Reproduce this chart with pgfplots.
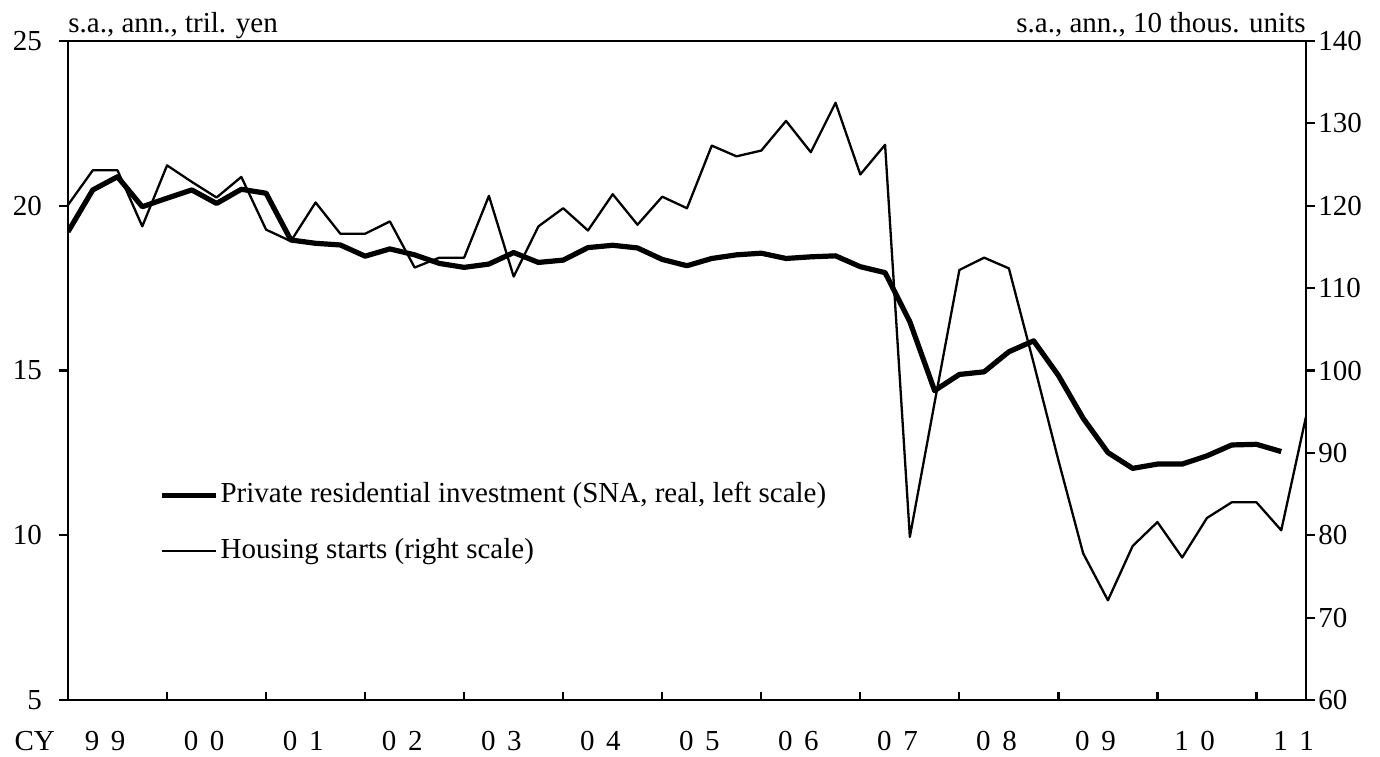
\documentclass[border=0pt]{standalone}
\usepackage{fontspec}
\setmainfont{Liberation Serif}
\usepackage{pgfplots}
\pgfplotsset{compat=1.18}
\pgfplotstableread{
x y
0 19.21
1 20.48
2 20.88
3 19.97
4 20.23
5 20.48
6 20.07
7 20.50
8 20.38
9 18.96
10 18.86
11 18.81
12 18.47
13 18.69
14 18.51
15 18.25
16 18.13
17 18.23
18 18.58
19 18.28
20 18.35
21 18.73
22 18.80
23 18.72
24 18.37
25 18.18
26 18.40
27 18.51
28 18.56
29 18.40
30 18.45
31 18.48
32 18.15
33 17.97
34 16.48
35 14.39
36 14.88
37 14.96
38 15.57
39 15.90
40 14.85
41 13.55
42 12.51
43 12.03
44 12.16
45 12.16
46 12.41
47 12.74
48 12.76
49 12.54
}\snatable
\pgfplotstableread{
x y
0 120.1
1 124.3
2 124.3
3 117.5
4 124.9
5 122.9
6 121.0
7 123.5
8 117.1
9 115.7
10 120.4
11 116.6
12 116.6
13 118.1
14 112.5
15 113.7
16 113.7
17 121.2
18 111.4
19 117.5
20 119.7
21 117.0
22 121.4
23 117.7
24 121.1
25 119.7
26 127.3
27 126.0
28 126.7
29 130.3
30 126.5
31 132.5
32 123.8
33 127.4
34 79.8
35 96.1
36 112.2
37 113.7
38 112.4
39 100.9
40 89.1
41 77.8
42 72.1
43 78.7
44 81.6
45 77.3
46 82.1
47 84.0
48 84.0
49 80.6
50 94.4
}\hstable
\begin{document}
\fontsize{14.5pt}{17pt}\selectfont
\begin{tikzpicture}
\pgfplotsset{
  every axis/.append style={
    scale only axis, width=619pt, height=329.5pt,
    xmin=0, xmax=50,
    font=\fontsize{14.5pt}{17pt}\selectfont,
    /pgf/number format/assume math mode=true,
    axis line style={line width=1.3pt},
    tick align=outside,
    major tick length=4.5pt,
    every tick/.style={line width=1.1pt, black},
  }
}
\begin{axis}[
  name=ax,
  ymin=5, ymax=25, ytick={5,10,15,20,25},
  ytick pos=left, xtick pos=bottom,
  xtick={1.5,5.5,9.5,13.5,17.5,21.5,25.5,29.5,33.5,37.5,41.5,45.5,49.5},
  xticklabels={{\llap{CY\hspace{15pt}}9\hspace{.4em}9},0\hspace{.4em}0,0\hspace{.4em}1,0\hspace{.4em}2,0\hspace{.4em}3,0\hspace{.4em}4,0\hspace{.4em}5,0\hspace{.4em}6,0\hspace{.4em}7,0\hspace{.4em}8,0\hspace{.4em}9,1\hspace{.4em}0,1\hspace{.4em}1},
  major x tick style={draw=none},
  minor xtick={4,8,...,48},
  minor tick length=4pt,
  minor x tick style={yshift=4pt, line width=1.1pt, black},
  xticklabel style={yshift=-6pt},
  yticklabel style={xshift=-3.5pt},
]
\addplot[black, line width=2.6pt, line join=round] table[x=x,y=y] {\snatable};
\end{axis}
\begin{axis}[
  ymin=60, ymax=140, ytick={60,70,...,140},
  axis y line*=right, axis x line=none,
  yticklabel style={xshift=-3.3pt},
  legend style={draw=none, fill=none, at={(rel axis cs:0.0735,0.334)}, anchor=north west, row sep=13pt, inner sep=0pt,
    nodes={inner sep=1pt, text height=10pt, text depth=3pt},
    font=\fontsize{14.5pt}{17pt}\selectfont},
  legend cell align=left,
  legend image code/.code={\draw[#1] (0pt,0pt) -- (27pt,0pt);},
]
\addlegendimage{black, line width=2.6pt}
\addlegendentry{Private residential investment (SNA, real, left scale)}
\addplot[black, line width=1.15pt, line join=round] table[x=x,y=y] {\hstable};
\addlegendentry{Housing starts (right scale)}
\end{axis}
\node[anchor=base west, inner sep=0] at (ax.north west) [yshift=4pt] {s.a., ann., tril. yen};
\node[anchor=base east, inner sep=0] at (ax.north east) [yshift=4pt] {s.a., ann., 10 thous. units};
\pgfresetboundingbox
\path (ax.south west) ++(-34pt,-28pt) coordinate (bl);
\path (ax.north east) ++(37pt,20.5pt) coordinate (tr);
\useasboundingbox (bl) rectangle (tr);
\end{tikzpicture}
\end{document}
